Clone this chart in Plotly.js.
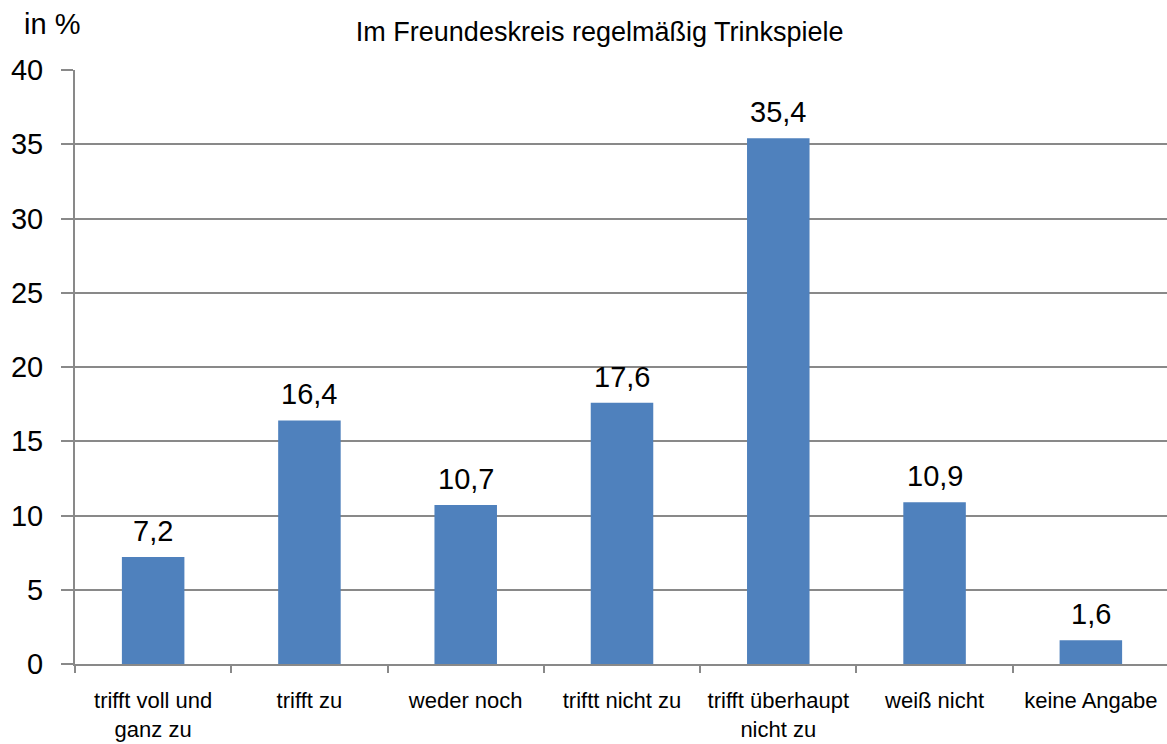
<!DOCTYPE html>
<html>
<head>
<meta charset="utf-8">
<script src="https://cdn.plot.ly/plotly-3.0.1.min.js"></script>
<style>
html,body{margin:0;padding:0;overflow:hidden;background:#fff;}
#chart{width:1169px;height:744px;}
</style>
</head>
<body>
<div id="chart"></div>
<script>
const categories = ["trifft voll und<br>ganz zu", "trifft zu", "weder noch", "triftt nicht zu", "trifft überhaupt<br>nicht zu", "weiß nicht", "keine Angabe"];
const values = [7.2, 16.4, 10.7, 17.6, 35.4, 10.9, 1.6];
const yTicks = [0, 5, 10, 15, 20, 25, 30, 35, 40];
const titleText = "Im Freundeskreis regelmäßig Trinkspiele";
const unitText = "in %";

const gray = "#898989";
const fontFam = "Liberation Sans, Arial, sans-serif";

const annotations = categories.map((c, i) => ({
  x: c, y: values[i], xref: "x", yref: "y",
  text: String(values[i]).replace(".", ","),
  showarrow: false, yanchor: "bottom", yshift: 8,
  font: {family: fontFam, size: 29, color: "#000"}
}));
annotations.push({
  xref: "paper", yref: "paper", x: -0.0484, y: 1.0774,
  xanchor: "left", yanchor: "middle",
  text: unitText, showarrow: false,
  font: {family: fontFam, size: 29, color: "#000"}
});

const data = [{
  type: "bar",
  x: categories,
  y: values,
  marker: {color: "#4F81BD"},
  hoverinfo: "none"
}];

const layout = {
  width: 1169, height: 744,
  margin: {l: 75, r: 0, t: 70, b: 80},
  paper_bgcolor: "#fff", plot_bgcolor: "#fff",
  bargap: 0.6,
  showlegend: false,
  title: {text: titleText, x: 0.513, xanchor: "center", y: 0.957, yanchor: "middle",
    font: {family: fontFam, size: 27, color: "#000"}},
  xaxis: {
    type: "category",
    showline: true, linecolor: gray, linewidth: 2,
    ticks: "outside", tickson: "boundaries", ticklen: 7, tickcolor: gray, tickwidth: 2,
    showgrid: false,
    tickfont: {family: fontFam, size: 22, color: "#000"},
    ticklabelstandoff: 16,
    fixedrange: true
  },
  yaxis: {
    range: [0, 40],
    tickvals: yTicks,
    ticktext: yTicks.map(String),
    showline: true, linecolor: gray, linewidth: 2,
    showgrid: true, gridcolor: gray, gridwidth: 2,
    zeroline: false,
    ticks: "outside", ticklen: 12, tickcolor: gray, tickwidth: 2,
    tickfont: {family: fontFam, size: 29, color: "#000"},
    ticklabelstandoff: 12,
    fixedrange: true
  },
  annotations: annotations
};

Plotly.newPlot("chart", data, layout, {displayModeBar: false, staticPlot: true});
</script>
</body>
</html>
